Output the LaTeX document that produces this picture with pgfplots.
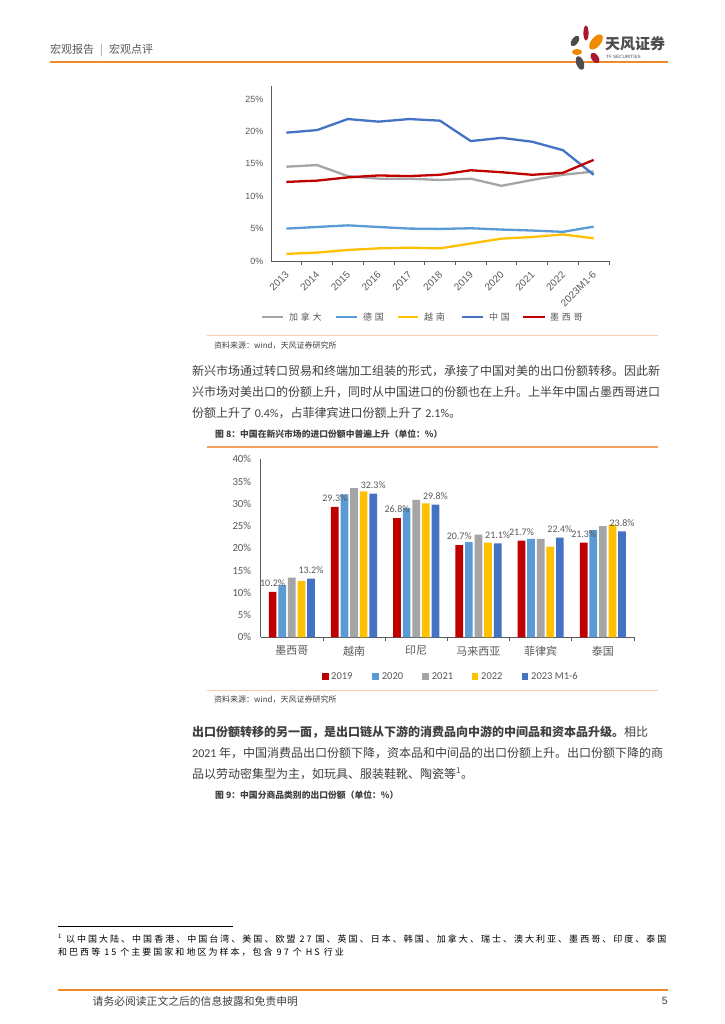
\documentclass[border=0pt]{standalone}
\usepackage{pgfplots}
\pgfplotsset{compat=1.18}
\usepackage{fontspec}
\setmainfont{Noto Sans CJK SC}
\newfontfamily\calf{Carlito}
\newfontfamily\arial{Liberation Sans}
\newfontfamily\cjkls[LetterSpace=30]{Noto Sans CJK SC}
\newfontfamily\cjkfn[LetterSpace=22.5]{Noto Sans CJK SC}

\definecolor{cRed}{HTML}{C00000}
\definecolor{cLBlue}{HTML}{5B9BD5}
\definecolor{cGray}{HTML}{A5A5A5}
\definecolor{cYel}{HTML}{FFC000}
\definecolor{cDBlue}{HTML}{4472C4}
\definecolor{txt}{HTML}{595959}
\definecolor{body}{HTML}{404040}
\definecolor{orgL}{HTML}{F8CBAD}
\definecolor{org}{HTML}{F0A35E}
\definecolor{orgH}{HTML}{EE8A2A}
\definecolor{logoG}{HTML}{4D4D4D}
\definecolor{logoR}{HTML}{A6192E}
\definecolor{logoO}{HTML}{F08A00}

\begin{document}
\begin{tikzpicture}
\path[use as bounding box, fill=white] (0pt,0pt) rectangle (724pt,-1024pt);

\begin{scope}[x=1pt,y=-1pt]
% header
\node[anchor=west, inner sep=0, text=txt, font=\fontsize{11}{12}\selectfont] at (50,50) {宏观报告\hspace{6pt}{\color{black!40}|}\hspace{6pt}宏观点评};
\draw[orgH, line width=2pt] (50,62) -- (668,62);
% logo
\fill[logoR] (586,33) ellipse [x radius=2.6, y radius=7.5];
\fill[logoG, rotate around={-35:(575,41)}] (575,41) ellipse [x radius=3.2, y radius=6];
\fill[logoO, rotate around={-40:(596,42)}] (596,42) ellipse [x radius=4.8, y radius=9];
\fill[logoO] (577,52) ellipse [x radius=5, y radius=3];
\fill[logoR, rotate around={35:(595,58)}] (595,58) ellipse [x radius=3.5, y radius=6];
\fill[logoG, rotate around={20:(580,63)}] (580,63) ellipse [x radius=3.8, y radius=7];
\node[anchor=west, inner sep=0, text=logoG, font=\fontsize{15}{16}\bfseries] at (605,44) {天风证券};
\node[anchor=west, inner sep=0, text=logoG, font=\arial\fontsize{4.6}{5}\selectfont] at (606,57) {TF SECURITIES};

% line chart legend
\begin{scope}[every node/.style={anchor=west, inner sep=0, text=txt, font=\cjkls\fontsize{9}{10}\selectfont}]
\draw[cGray, line width=2.2pt] (262,317) -- (283,317); \node at (289,317) {加拿大};
\draw[cLBlue, line width=2.2pt] (336,317) -- (357,317); \node at (363,317) {德国};
\draw[cYel, line width=2.2pt] (398,317) -- (418,317); \node at (424,317) {越南};
\draw[cDBlue, line width=2.2pt] (462,317) -- (483,317); \node at (489,317) {中国};
\draw[cRed, line width=2.2pt] (523,317) -- (545,317); \node at (550,317) {墨西哥};
\end{scope}

\draw[orgL, line width=1pt] (207,335) -- (658,335);
\node[anchor=west, inner sep=0, text=body, font=\fontsize{8}{9}\selectfont] at (214,346) {资料来源：wind，天风证券研究所};

% paragraphs
\begin{scope}[every node/.style={anchor=base west, inner sep=0, text=body, font=\fontsize{12}{14}\selectfont}]
\node at (192,375) {新兴市场通过转口贸易和终端加工组装的形式，承接了中国对美的出口份额转移。因此新};
\node at (192,396) {兴市场对美出口的份额上升，同时从中国进口的份额也在上升。上半年中国占墨西哥进口};
\node at (192,417) {份额上升了 {\calf 0.4\%}，占菲律宾进口份额上升了 {\calf 2.1\%}。};
\node at (192,736) {\textbf{出口份额转移的另一面，是出口链从下游的消费品向中游的中间品和资本品升级。}相比};
\node at (192,757) {{\calf 2021} 年，中国消费品出口份额下降，资本品和中间品的出口份额上升。出口份额下降的商};
\node at (192,778) {品以劳动密集型为主，如玩具、服装鞋靴、陶瓷等\textsuperscript{1}。};
\end{scope}

\node[anchor=west, inner sep=0, text=body, font=\fontsize{8.8}{10}\bfseries] at (215,434) {图 8：中国在新兴市场的进口份额中普遍上升（单位：\%）};
\draw[org, line width=1.2pt] (207,447) -- (658,447);

% bar legend
\begin{scope}[every node/.style={anchor=west, inner sep=0, text=txt, font=\calf\fontsize{10.5}{12}\selectfont}]
\fill[cRed] (322,673) rectangle (328.7,679.7); \node at (331,676.3) {2019};
\fill[cLBlue] (372,673) rectangle (378.7,679.7); \node at (381.7,676.3) {2020};
\fill[cGray] (422,673) rectangle (428.7,679.7); \node at (431.7,676.3) {2021};
\fill[cYel] (471.7,673) rectangle (478.4,679.7); \node at (481,676.3) {2022};
\fill[cDBlue] (521.7,673) rectangle (528.4,679.7); \node at (531,676.3) {2023 M1-6};
\end{scope}

\draw[orgL, line width=1pt] (207,690) -- (658,690);
\node[anchor=west, inner sep=0, text=body, font=\fontsize{8}{9}\selectfont] at (214,700) {资料来源：wind，天风证券研究所};

\node[anchor=west, inner sep=0, text=body, font=\fontsize{8.8}{10}\bfseries] at (215,795) {图 9：中国分商品类别的出口份额（单位：\%）};

% footnote
\draw[black, line width=0.6pt] (58,926.3) -- (233,926.3);
\node[anchor=west, inner sep=0, text=black, font=\cjkfn\fontsize{9}{10}\selectfont] at (58,938.5) {\textsuperscript{1} 以中国大陆、中国香港、中国台湾、美国、欧盟 27 国、英国、日本、韩国、加拿大、瑞士、澳大利亚、墨西哥、印度、泰国};
\node[anchor=west, inner sep=0, text=black, font=\cjkfn\fontsize{9}{10}\selectfont] at (58,952.5) {和巴西等 15 个主要国家和地区为样本，包含 97 个 HS 行业};

% footer
\draw[orgH, line width=1.8pt] (58,990) -- (668,990);
\node[anchor=west, inner sep=0, text=body, font=\fontsize{10.8}{12}\selectfont] at (92.5,1001) {请务必阅读正文之后的信息披露和免责申明};
\node[anchor=east, inner sep=0, text=body, font=\arial\fontsize{10.5}{12}\selectfont] at (668,1001) {5};
\end{scope}

% ---- line chart
\begin{axis}[
  at={(271pt,-261pt)}, anchor=south west,
  scale only axis, width=338pt, height=175pt,
  xmin=-0.5, xmax=10.5, ymin=0, ymax=27,
  axis x line*=bottom, axis y line*=left,
  axis line style={-, draw=black!65, line width=0.8pt},
  xtick={0,...,10},
  xticklabels={2013,2014,2015,2016,2017,2018,2019,2020,2021,2022,2023M1-6},
  minor xtick={0.5,1.5,...,10.5},
  ytick={0,5,...,25}, ytick style={draw=none},
  major tick length=0pt, minor tick length=4pt, tick align=outside,
  minor tick style={draw=black!65, line width=0.8pt},
  yticklabel={\pgfmathprintnumber{\tick}\%},
  yticklabel style={font=\arial\fontsize{9}{10}\selectfont, text=txt, xshift=-4pt},
  xticklabel style={font=\arial\fontsize{10}{11}\selectfont, text=txt, inner sep=1pt, xshift=1.5pt, yshift=-11pt, rotate=45, anchor=east},
  /pgf/number format/assume math mode=true,
  clip=false,
  every axis plot/.append style={line width=2.3pt, line join=round},
]
\addplot[cGray] coordinates {(0,14.55) (1,14.8) (2,13.1) (3,12.7) (4,12.7) (5,12.5) (6,12.7) (7,11.6) (8,12.5) (9,13.3) (10,13.8)};
\addplot[cLBlue] coordinates {(0,5.0) (1,5.25) (2,5.5) (3,5.25) (4,5.0) (5,4.95) (6,5.05) (7,4.85) (8,4.7) (9,4.5) (10,5.3)};
\addplot[cYel] coordinates {(0,1.1) (1,1.3) (2,1.7) (3,1.95) (4,2.05) (5,1.95) (6,2.7) (7,3.45) (8,3.7) (9,4.1) (10,3.5)};
\addplot[cDBlue] coordinates {(0,19.8) (1,20.2) (2,21.9) (3,21.5) (4,21.9) (5,21.65) (6,18.5) (7,19.0) (8,18.4) (9,17.1) (10,13.3)};
\addplot[cRed] coordinates {(0,12.2) (1,12.4) (2,12.9) (3,13.2) (4,13.1) (5,13.3) (6,14.0) (7,13.7) (8,13.3) (9,13.6) (10,15.6)};
\end{axis}

% ---- bar chart
\begin{axis}[
  at={(260.7pt,-637.3pt)}, anchor=south west,
  scale only axis, width=373.3pt, height=178pt,
  xmin=-0.5, xmax=5.5, ymin=0, ymax=40,
  ybar=1.9pt, bar width=7.7pt,
  axis x line*=bottom, axis y line*=left,
  axis line style={-, draw=black!65, line width=0.8pt},
  xtick={0,...,5},
  xticklabels={墨西哥,越南,印尼,马来西亚,菲律宾,泰国},
  minor xtick={0.5,1.5,...,5.5},
  ytick={0,5,...,40}, ytick style={draw=none},
  major tick length=0pt, minor tick length=4pt, tick align=outside,
  minor tick style={draw=black!65, line width=0.8pt},
  yticklabel={\pgfmathprintnumber{\tick}\%},
  yticklabel style={font=\calf\fontsize{10.8}{12}\selectfont, text=txt, xshift=-6pt},
  xticklabel style={font=\fontsize{11}{12}\selectfont, text=txt, yshift=-5pt},
  /pgf/number format/assume math mode=true,
  every node near coord/.append style={font=\calf\fontsize{10}{11}\selectfont, text=txt, inner sep=1pt, yshift=4pt},
  clip=false,
]
\addplot[fill=cRed, draw=none, nodes near coords={\pgfmathprintnumber[fixed,fixed zerofill,precision=1]{\pgfplotspointmeta}\%}]
  coordinates {(0,10.2) (1,29.3) (2,26.8) (3,20.7) (4,21.7) (5,21.3)};
\addplot[fill=cLBlue, draw=none] coordinates {(0,11.7) (1,32.1) (2,29.1) (3,21.4) (4,22.1) (5,24.1)};
\addplot[fill=cGray, draw=none] coordinates {(0,13.4) (1,33.5) (2,30.9) (3,23.1) (4,22.1) (5,25.0)};
\addplot[fill=cYel, draw=none] coordinates {(0,12.7) (1,32.8) (2,30.1) (3,21.3) (4,20.4) (5,25.3)};
\addplot[fill=cDBlue, draw=none, nodes near coords={\pgfmathprintnumber[fixed,fixed zerofill,precision=1]{\pgfplotspointmeta}\%}]
  coordinates {(0,13.2) (1,32.3) (2,29.8) (3,21.1) (4,22.4) (5,23.8)};
\end{axis}
\end{tikzpicture}
\end{document}
